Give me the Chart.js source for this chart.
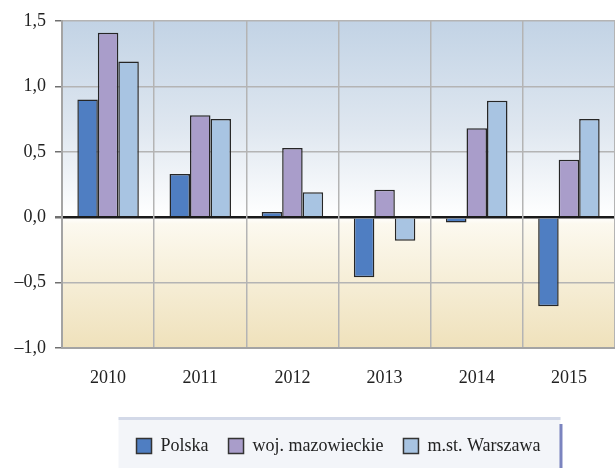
<!DOCTYPE html>
<html>
<head>
<meta charset="utf-8">
<script src="https://cdn.jsdelivr.net/npm/chart.js@4.4.0/dist/chart.umd.min.js"></script>
<style>
  html, body { margin: 0; padding: 0; background: #fff; }
  #wrap { width: 615px; height: 468px; }
</style>
</head>
<body>
<div id="wrap"><canvas id="myChart" width="615" height="468"></canvas></div>
<script>
const years = ['2010', '2011', '2012', '2013', '2014', '2015'];
const polska = [0.90, 0.33, 0.04, -0.46, -0.04, -0.68];
const mazowieckie = [1.41, 0.78, 0.53, 0.21, 0.68, 0.44];
const warszawa = [1.19, 0.75, 0.19, -0.18, 0.89, 0.75];
const seriesNames = ['Polska', 'woj. mazowieckie', 'm.st. Warszawa'];
const yTicks = [1.5, 1.0, 0.5, 0.0, -0.5, -1.0];

const serif = "'Liberation Serif', 'DejaVu Serif', serif";

function fmt(v) {
    let s = Math.abs(v).toFixed(1).replace('.', ',');
    return v < 0 ? '\u2013' + s : s;
}

// gradient background + legend box
const bgPlugin = {
    id: 'bg',
    beforeDraw(chart) {
        const ctx = chart.ctx;
        const a = chart.chartArea;
        const y = chart.scales.y;
        const zero = y.getPixelForValue(0);
        const z = (zero - a.top) / (a.bottom - a.top);
        const g = ctx.createLinearGradient(0, a.top, 0, a.bottom);
        g.addColorStop(0, '#c2d3e5');
        g.addColorStop(z * 0.55, '#dfe7f0');
        g.addColorStop(z, '#ffffff');
        g.addColorStop(Math.min(1, z + 0.02), '#fcf9ef');
        g.addColorStop(1, '#efe1bb');
        ctx.save();
        ctx.fillStyle = g;
        ctx.fillRect(a.left, a.top, a.right - a.left, a.bottom - a.top);

        const lg = chart.legend;
        if (lg && lg.legendHitBoxes && lg.legendHitBoxes.length) {
            const hb = lg.legendHitBoxes;
            const x0 = hb[0].left - 18;
            const x1 = hb[hb.length - 1].left + hb[hb.length - 1].width + 20;
            const y0 = lg.top;
            const y1 = chart.height;
            ctx.fillStyle = '#f3f5f9';
            ctx.fillRect(x0, y0, x1 - x0, y1 - y0);
            ctx.fillStyle = '#d3d9e8';
            ctx.fillRect(x0, y0, x1 - x0, 3);
            ctx.fillStyle = '#7b84bf';
            ctx.fillRect(x1 - 1, y0 + 7, 3, y1 - y0 - 7);
        }
        ctx.restore();
    }
};

const ctx = document.getElementById('myChart').getContext('2d');
new Chart(ctx, {
    type: 'bar',
    data: {
        labels: years,
        datasets: [
            {
                label: seriesNames[0],
                data: polska,
                backgroundColor: '#4f7ec2',
                borderColor: '#262626',
                borderWidth: 1.5,
                borderSkipped: 'start'
            },
            {
                label: seriesNames[1],
                data: mazowieckie,
                backgroundColor: '#a99dca',
                borderColor: '#262626',
                borderWidth: 1.5,
                borderSkipped: 'start'
            },
            {
                label: seriesNames[2],
                data: warszawa,
                backgroundColor: '#a8c4e2',
                borderColor: '#262626',
                borderWidth: 1.5,
                borderSkipped: 'start'
            }
        ]
    },
    options: {
        responsive: false,
        animation: false,
        layout: { padding: { top: 21, left: 0, right: 0, bottom: 3 } },
        datasets: {
            bar: { barPercentage: 1.0, categoryPercentage: 0.667 }
        },
        scales: {
            y: {
                min: -1.0,
                max: 1.5,
                afterBuildTicks(scale) {
                    scale.ticks = yTicks.map(v => ({ value: v }));
                },
                afterFit(scale) { scale.width = 62; },
                border: { color: '#a4a4a4', width: 2 },
                grid: {
                    color: c => c.tick && c.tick.value === 0 ? '#1a1a1a' : '#b4b4b4',
                    lineWidth: c => c.tick && c.tick.value === 0 ? 2.5 : 1.5,
                    tickLength: 7,
                    tickColor: '#707070'
                },
                ticks: {
                    padding: 9,
                    color: '#222',
                    font: { family: serif, size: 18 },
                    callback: v => fmt(v)
                }
            },
            x: {
                afterFit(scale) { scale.height = 69; },
                border: { color: '#a4a4a4', width: 2 },
                grid: {
                    offset: true,
                    color: '#b4b4b4',
                    lineWidth: 1.5,
                    drawTicks: false
                },
                ticks: {
                    padding: 19,
                    color: '#222',
                    font: { family: serif, size: 18 }
                }
            }
        },
        plugins: {
            legend: {
                display: true,
                position: 'bottom',
                fullSize: false,
                labels: {
                    boxWidth: 15,
                    boxHeight: 15,
                    padding: 20,
                    color: '#222',
                    font: { family: serif, size: 18 },
                    generateLabels(chart) {
                        return chart.data.datasets.map((ds, i) => ({
                            text: ds.label,
                            fillStyle: ds.backgroundColor,
                            strokeStyle: '#333',
                            lineWidth: 1.5,
                            fontColor: '#222',
                            datasetIndex: i
                        }));
                    }
                }
            },
            tooltip: { enabled: false }
        }
    },
    plugins: [bgPlugin]
});
</script>
</body>
</html>
